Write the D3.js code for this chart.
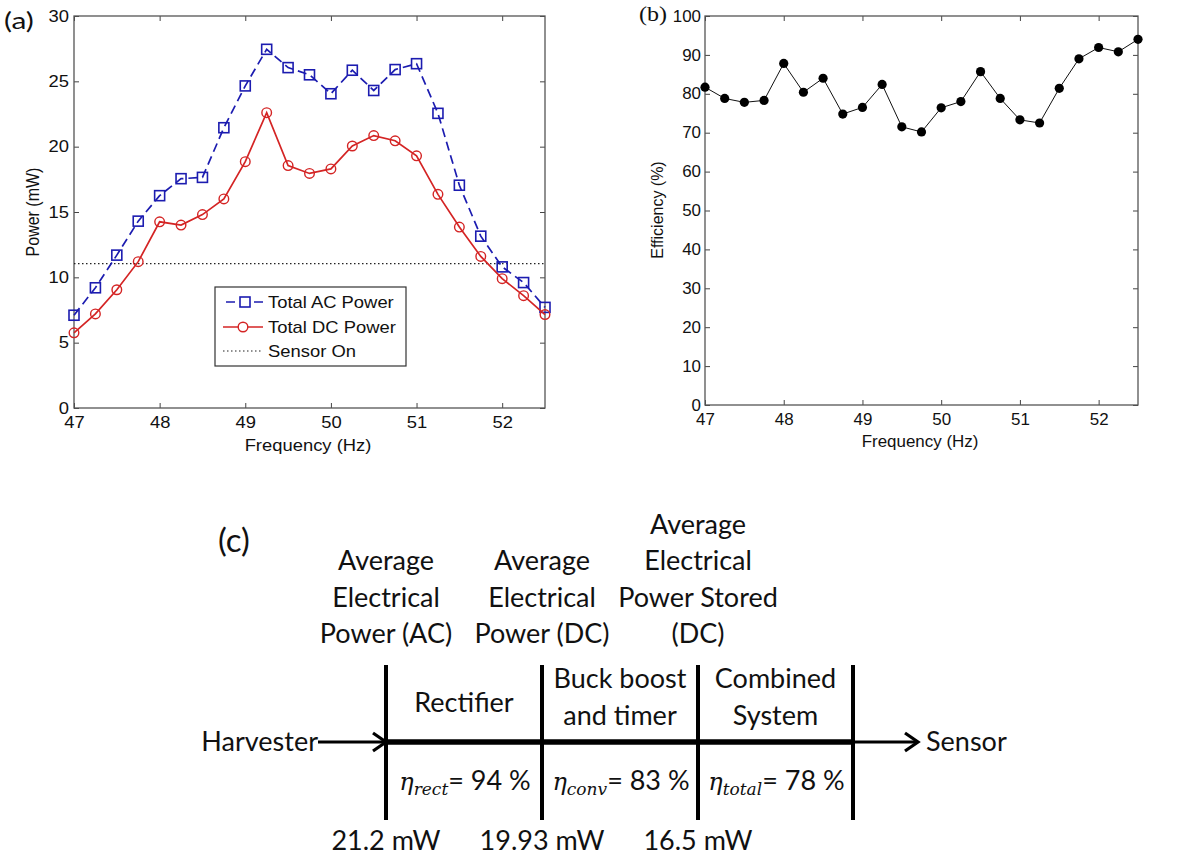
<!DOCTYPE html>
<html>
<head>
<meta charset="utf-8">
<script src="https://cdn.jsdelivr.net/npm/d3@7"></script>
<style>
  body { margin: 0; background: #fff; }
  .tick text { font-family: "Liberation Sans", Arial, sans-serif; font-size: 16px; fill: #111; }
  .axislabel { font-family: "Liberation Sans", Arial, sans-serif; font-size: 16px; fill: #111; }
  .diag { font-family: Lato, "Open Sans", sans-serif; font-size: 27px; fill: #111; }
</style>
</head>
<body>
<svg id="fig" width="1183" height="860"></svg>
<script>
// frequencies (Hz) shared by both plots
var freqs = [47, 47.25, 47.5, 47.75, 48, 48.25, 48.5, 48.75, 49, 49.25, 49.5, 49.75,
             50, 50.25, 50.5, 50.75, 51, 51.25, 51.5, 51.75, 52, 52.25, 52.5];
// (a) power in mW
var acPower = [7.1, 9.2, 11.7, 14.3, 16.25, 17.55, 17.65, 21.45, 24.65, 27.45, 26.05, 25.5,
               24.05, 25.85, 24.3, 25.9, 26.35, 22.55, 17.05, 13.15, 10.8, 9.6, 7.7];
var dcPower = [5.75, 7.2, 9.05, 11.2, 14.25, 14.0, 14.8, 16.0, 18.85, 22.6, 18.55, 17.95,
               18.3, 20.05, 20.85, 20.45, 19.3, 16.35, 13.85, 11.6, 9.9, 8.6, 7.15];
var sensorOn = 11.05;
// (b) efficiency in %
var efficiency = [81.7, 78.8, 77.8, 78.3, 87.8, 80.4, 84.0, 74.8, 76.5, 82.4, 71.5, 70.2,
                  76.4, 78.0, 85.7, 78.8, 73.3, 72.5, 81.4, 89.0, 91.9, 90.8, 94.0];
// tick labels
var freqTicks = [47, 48, 49, 50, 51, 52];
var powerTicks = [0, 5, 10, 15, 20, 25, 30];
var effTicks = [0, 10, 20, 30, 40, 50, 60, 70, 80, 90, 100];
var legendNames = ["Total AC Power", "Total DC Power", "Sensor On"];

// (c) block diagram text
var stageHeads = [["Average", "Electrical", "Power (AC)"],
                  ["Average", "Electrical", "Power (DC)"],
                  ["Average", "Electrical", "Power Stored", "(DC)"]];
var blockNames = [["Rectifier"], ["Buck boost", "and timer"], ["Combined", "System"]];
var etaSubs = ["rect", "conv", "total"];
var etaValues = ["94 %", "83 %", "78 %"];
var stagePowers = ["21.2 mW", "19.93 mW", "16.5 mW"];

var svg = d3.select("#fig");

// text squeezed/stretched horizontally like the source figure
function label(x, y, txt, sx, anchor, rot) {
	return svg.append("text").attr("class", "axislabel")
		.attr("transform", "translate(" + x + "," + y + ")" + (rot ? " rotate(-90)" : "") + " scale(" + (rot ? "1," + sx : sx + ",1") + ")")
		.attr("text-anchor", anchor || "start")
		.text(txt);
}

// generic matlab-like boxed axes
function drawFrame(x, y, xTicks, yTicks, ypad, sx) {
	var x0 = x.range()[0], x1 = x.range()[1], y0 = y.range()[0], y1 = y.range()[1];
	var g = svg.append("g");
	g.append("g").attr("transform", "translate(0," + y0 + ")")
		.call(d3.axisBottom(x).tickValues(xTicks).tickSizeInner(-5).tickSizeOuter(0).tickPadding(9).tickFormat(d3.format("d")));
	g.append("g").attr("transform", "translate(0," + y1 + ")")
		.call(d3.axisTop(x).tickValues(xTicks).tickSizeInner(-5).tickSizeOuter(0).tickFormat(""));
	g.append("g").attr("class", "yleft").attr("transform", "translate(" + x0 + ",0)")
		.call(d3.axisLeft(y).tickValues(yTicks).tickSizeInner(-5).tickSizeOuter(0).tickPadding(ypad).tickFormat(d3.format("d")));
	g.append("g").attr("transform", "translate(" + x1 + ",0)")
		.call(d3.axisRight(y).tickValues(yTicks).tickSizeInner(-5).tickSizeOuter(0).tickFormat(""));
	g.selectAll(".domain").remove();
	g.selectAll(".tick line").attr("stroke", "#444");
	g.selectAll(".tick text").attr("transform", "scale(" + sx + ",1)");
	g.selectAll(".yleft .tick text").attr("x", -ypad / sx);
	g.append("rect")
		.attr("x", x0).attr("y", y1)
		.attr("width", x1 - x0).attr("height", y0 - y1)
		.attr("fill", "none").attr("stroke", "#555").attr("stroke-width", 1.3);
	return g;
}

// ---------- panel (a) ----------
var sxA = 1.15;
var xa = d3.scaleLinear().domain([47, 52.5]).range([74, 545]);
var ya = d3.scaleLinear().domain([0, 30]).range([408, 16]);
drawFrame(xa, ya, freqTicks, powerTicks, 5, sxA);

svg.append("line")
	.attr("x1", xa(47)).attr("x2", xa(52.5))
	.attr("y1", ya(sensorOn)).attr("y2", ya(sensorOn))
	.attr("stroke", "#222").attr("stroke-width", 1.2).attr("stroke-dasharray", "1.5,2.5");

var lineA = d3.line().x(function(d, i) { return xa(freqs[i]); }).y(function(d) { return ya(d); });

svg.append("path").datum(acPower)
	.attr("d", lineA).attr("fill", "none")
	.attr("stroke", "#1c1cb0").attr("stroke-width", 1.7).attr("stroke-dasharray", "9,5");
svg.selectAll(".acpt").data(acPower).enter().append("rect")
	.attr("class", "acpt")
	.attr("x", function(d, i) { return xa(freqs[i]) - 5; })
	.attr("y", function(d) { return ya(d) - 5; })
	.attr("width", 10).attr("height", 10)
	.attr("fill", "none").attr("stroke", "#1c1cb0").attr("stroke-width", 1.6);

svg.append("path").datum(dcPower)
	.attr("d", lineA).attr("fill", "none")
	.attr("stroke", "#d42424").attr("stroke-width", 1.7);
svg.selectAll(".dcpt").data(dcPower).enter().append("circle")
	.attr("class", "dcpt")
	.attr("cx", function(d, i) { return xa(freqs[i]); })
	.attr("cy", function(d) { return ya(d); })
	.attr("r", 4.8)
	.attr("fill", "none").attr("stroke", "#d42424").attr("stroke-width", 1.4);

// legend
var leg = svg.append("g");
leg.append("rect").attr("x", 215).attr("y", 287).attr("width", 191).attr("height", 79)
	.attr("fill", "#fff").attr("stroke", "#333").attr("stroke-width", 1.2);
var legY = [302, 327, 351];
leg.append("line").attr("x1", 226).attr("x2", 263).attr("y1", legY[0]).attr("y2", legY[0])
	.attr("stroke", "#1c1cb0").attr("stroke-width", 1.7).attr("stroke-dasharray", "9,5");
leg.append("rect").attr("x", 240).attr("y", legY[0] - 5).attr("width", 10).attr("height", 10)
	.attr("fill", "#fff").attr("stroke", "#1c1cb0").attr("stroke-width", 1.6);
leg.append("line").attr("x1", 223).attr("x2", 263).attr("y1", legY[1]).attr("y2", legY[1])
	.attr("stroke", "#d42424").attr("stroke-width", 1.7);
leg.append("circle").attr("cx", 243).attr("cy", legY[1]).attr("r", 4.8)
	.attr("fill", "#fff").attr("stroke", "#d42424").attr("stroke-width", 1.4);
leg.append("line").attr("x1", 223).attr("x2", 263).attr("y1", legY[2]).attr("y2", legY[2])
	.attr("stroke", "#222").attr("stroke-width", 1.2).attr("stroke-dasharray", "1.5,2.5");
legendNames.forEach(function(d, i) {
	label(268, legY[i] + 6, d, sxA);
});

label(308, 451, "Frequency (Hz)", sxA, "middle");
label(39, 212, "Power (mW)", sxA, "middle", true);
svg.append("text")
	.attr("transform", "translate(4,29) scale(1.25,1)")
	.style("font-family", "Lato, sans-serif").style("font-size", "24px").style("fill", "#111")
	.text("(a)");

// ---------- panel (b) ----------
var sxB = 1.06;
var xb = d3.scaleLinear().domain([47, 52.5]).range([705, 1138]);
var yb = d3.scaleLinear().domain([0, 100]).range([405, 16]);
drawFrame(xb, yb, freqTicks, effTicks, 4, sxB);

var lineB = d3.line().x(function(d, i) { return xb(freqs[i]); }).y(function(d) { return yb(d); });
svg.append("path").datum(efficiency)
	.attr("d", lineB).attr("fill", "none").attr("stroke", "#111").attr("stroke-width", 1);
svg.selectAll(".effpt").data(efficiency).enter().append("circle")
	.attr("class", "effpt")
	.attr("cx", function(d, i) { return xb(freqs[i]); })
	.attr("cy", function(d) { return yb(d); })
	.attr("r", 4.6).attr("fill", "#000");

label(920, 447, "Frequency (Hz)", sxB, "middle");
label(663, 210, "Efficiency (%)", sxB, "middle", true);
svg.append("text")
	.attr("transform", "translate(639,21) scale(1.2,1)")
	.style("font-family", "'Liberation Serif', 'Times New Roman', serif").style("font-size", "20px").style("fill", "#111")
	.text("(b)");

// ---------- panel (c) ----------
var divX = [386, 542, 698, 853];
var flowY = 742;
var dg = svg.append("g");

dg.append("text").attr("class", "diag").attr("x", 218).attr("y", 552)
	.style("font-size", "33px").text("(c)");

// column headings, bottom aligned
stageHeads.forEach(function(lines, c) {
	lines.forEach(function(t, k) {
		dg.append("text").attr("class", "diag")
			.attr("x", divX[c]).attr("y", 643 - (lines.length - 1 - k) * 36.5)
			.attr("text-anchor", "middle").text(t);
	});
});

// divider lines
dg.selectAll(".div").data(divX).enter().append("line")
	.attr("x1", function(d) { return d; }).attr("x2", function(d) { return d; })
	.attr("y1", 665).attr("y2", 820)
	.attr("stroke", "#000").attr("stroke-width", 4);
dg.append("line").attr("x1", divX[0]).attr("x2", divX[3])
	.attr("y1", flowY).attr("y2", flowY)
	.attr("stroke", "#000").attr("stroke-width", 5.5);

// arrows
function arrow(xs, xe) {
	dg.append("line").attr("x1", xs).attr("x2", xe - 2).attr("y1", flowY).attr("y2", flowY)
		.attr("stroke", "#000").attr("stroke-width", 3);
	dg.append("path")
		.attr("d", "M" + (xe - 13) + "," + (flowY - 9) + "L" + xe + "," + flowY + "L" + (xe - 13) + "," + (flowY + 9))
		.attr("fill", "none").attr("stroke", "#000").attr("stroke-width", 3.2);
}
arrow(318, 386);
arrow(853, 918);

dg.append("text").attr("class", "diag").attr("x", 318).attr("y", 751)
	.attr("text-anchor", "end").text("Harvester");
dg.append("text").attr("class", "diag").attr("x", 926).attr("y", 751)
	.text("Sensor");

// block names
blockNames.forEach(function(lines, c) {
	var cx = (divX[c] + divX[c + 1]) / 2;
	var base = lines.length === 1 ? 712 : 688;
	lines.forEach(function(t, k) {
		dg.append("text").attr("class", "diag")
			.attr("x", cx).attr("y", base + k * 37)
			.attr("text-anchor", "middle").text(t);
	});
});

// efficiencies
etaSubs.forEach(function(s, c) {
	var cx = (divX[c] + divX[c + 1]) / 2 + 1;
	var t = dg.append("text").attr("class", "diag")
		.attr("x", cx).attr("y", 790).attr("text-anchor", "middle");
	t.append("tspan")
		.style("font-family", "'DejaVu Serif', serif").style("font-style", "italic").style("font-size", "24px")
		.text("\u03b7");
	t.append("tspan")
		.style("font-family", "'DejaVu Serif', serif").style("font-style", "italic").style("font-size", "17px")
		.attr("dy", 5).text(s);
	t.append("tspan").attr("dy", -5).text("= " + etaValues[c]);
});

// stage powers
stagePowers.forEach(function(p, c) {
	dg.append("text").attr("class", "diag")
		.attr("x", divX[c]).attr("y", 850).attr("text-anchor", "middle").text(p);
});
</script>
</body>
</html>
